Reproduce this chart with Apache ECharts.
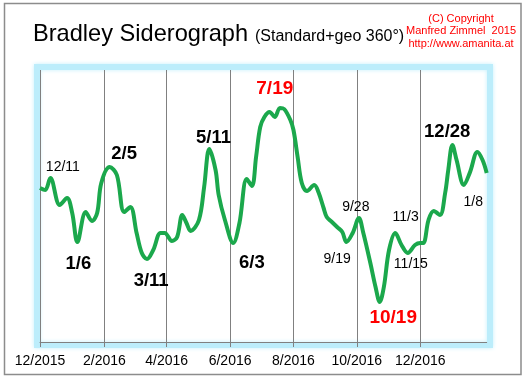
<!DOCTYPE html>
<html>
<head>
<meta charset="utf-8">
<script src="https://cdn.jsdelivr.net/npm/echarts@6/dist/echarts.min.js"></script>
<style>
html,body{margin:0;padding:0;background:#fff;}
#chart{width:527px;height:378px;}
</style>
</head>
<body>
<div id="chart"></div>
<script>
// ---- data ----
const startDate = '2015-12-01';
const dayCount = 431;
const tickDates = ['2015-12-01','2016-02-01','2016-04-01','2016-06-01','2016-08-01','2016-10-01','2016-12-01'];
const tickLabels = ['12/2015','2/2016','4/2016','6/2016','8/2016','10/2016','12/2016'];

// day offsets from startDate and index values of the siderograph curve
const curveDays = [0,5,10,19,26,31,36,44,50,55,59,67,74,81,87,93,98,103,109,116,120,127,132,137,141,145,153,158,163,169,172,178,186,192,199,204,208,212,216,221,226,231,235,241,244,248,252,257,264,268,273,276,281,286,291,295,301,307,311,318,323,327,331,336,342,348,354,361,366,369,374,379,385,390,393,397,401,408,414,421,426,430];
const curveValues = [154,152,164,137,144,129,100,130,121,129,159,175,167,130,135,109,89,83,92,109,109,101,105,127,119,111,122,155,193,172,147,122,99,119,163,156,185,215,225,230,225,234,233,222,212,185,159,151,157,150,134,125,120,115,110,100,109,124,110,79,55,40,55,92,109,97,89,97,99,99,122,131,127,149,172,197,182,157,170,190,182,169];

// turning-point annotations
const annTexts  = ['12/11','2/5','1/6','3/11','5/11','6/3','7/19','9/28','9/19','11/3','11/15','10/19','12/28','1/8'];
const annDays   = [22,81,37,107,167,204,226,304,286,352,357,340,392,417];
const annValues = [175,188,78,61,204,79,253,135,83,125,78,24,210,140];
const annKinds  = ['small','big','big','big','big','big','red','small','small','small','small','red','big','small'];

// ---- build ----
const FONT = "Arial, 'Liberation Sans', sans-serif";
const categories = [];
const t0 = Date.parse(startDate + 'T00:00:00Z');
for (let i = 0; i < dayCount; i++) {
  categories.push(new Date(t0 + i * 86400000).toISOString().slice(0, 10));
}
const isTick = (idx, val) => tickDates.indexOf(val) >= 0;

const kindStyle = {
  small: {fontSize: 14, fontWeight: 'normal', color: '#000000'},
  big:   {fontSize: 18.5, fontWeight: 'bold', color: '#000000'},
  red:   {fontSize: 19, fontWeight: 'bold', color: '#ff0000'}
};

const chart = echarts.init(document.getElementById('chart'), null, {renderer: 'canvas'});
chart.setOption({
  animation: false,
  backgroundColor: '#fff',
  grid: {left: 40, right: 40.3, top: 70, height: 272, containLabel: false},
  graphic: [
    {type: 'rect', z: -10, silent: true,
     shape: {x: 4.5, y: 3.5, width: 516.5, height: 371},
     style: {fill: '#fff', stroke: '#8c8c8c', lineWidth: 1.5}},
    {type: 'rect', z: -5, silent: true,
     shape: {x: 37, y: 67, width: 453, height: 278},
     style: {fill: '#fff', stroke: '#bcedfb', lineWidth: 6, shadowBlur: 4, shadowColor: '#c4f0fc'}},
    {type: 'text', silent: true, x: 33, y: 34,
     style: {text: 'Bradley Siderograph', font: '23.6px ' + FONT, fill: '#000', textVerticalAlign: 'middle'}},
    {type: 'text', silent: true, x: 255, y: 36.5,
     style: {text: '(Standard+geo 360°)', font: '16px ' + FONT, fill: '#000', textVerticalAlign: 'middle'}},
    {type: 'text', silent: true, x: 461, y: 18.5,
     style: {text: '(C) Copyright', font: '11px ' + FONT, fill: '#ff0000', textAlign: 'center', textVerticalAlign: 'middle'}},
    {type: 'text', silent: true, x: 461, y: 31,
     style: {text: 'Manfred Zimmel  2015', font: '11px ' + FONT, fill: '#ff0000', textAlign: 'center', textVerticalAlign: 'middle'}},
    {type: 'text', silent: true, x: 461, y: 43.5,
     style: {text: 'http://www.amanita.at', font: '11px ' + FONT, fill: '#ff0000', textAlign: 'center', textVerticalAlign: 'middle'}}
  ],
  xAxis: {
    type: 'category',
    data: categories,
    boundaryGap: false,
    axisLine: {show: true, lineStyle: {color: '#808080', width: 1}},
    axisTick: {show: true, interval: isTick, length: 5, lineStyle: {color: '#808080'}},
    splitLine: {show: true, interval: isTick, lineStyle: {color: '#808080', width: 1}},
    axisLabel: {
      interval: isTick, margin: 12, color: '#000', fontSize: 14, fontFamily: FONT,
      formatter: v => tickLabels[tickDates.indexOf(v)]
    }
  },
  yAxis: {type: 'value', min: 0, max: 272, show: false, splitLine: {show: false}},
  series: [
    {
      type: 'line',
      data: curveDays.map((d, i) => [d, curveValues[i]]),
      smooth: 0.35,
      showSymbol: false,
      symbol: 'none',
      lineStyle: {color: '#1ba84c', width: 4},
      z: 3
    },
    {
      type: 'scatter',
      symbolSize: 0,
      itemStyle: {color: '#ffffff', opacity: 1},
      silent: true,
      z: 4,
      data: annTexts.map((t, i) => ({
        value: [annDays[i], annValues[i]],
        label: Object.assign({show: true, position: 'inside', formatter: t, fontFamily: FONT,
                              opacity: 1, textBorderWidth: 0}, kindStyle[annKinds[i]])
      }))
    }
  ]
});
</script>
</body>
</html>
